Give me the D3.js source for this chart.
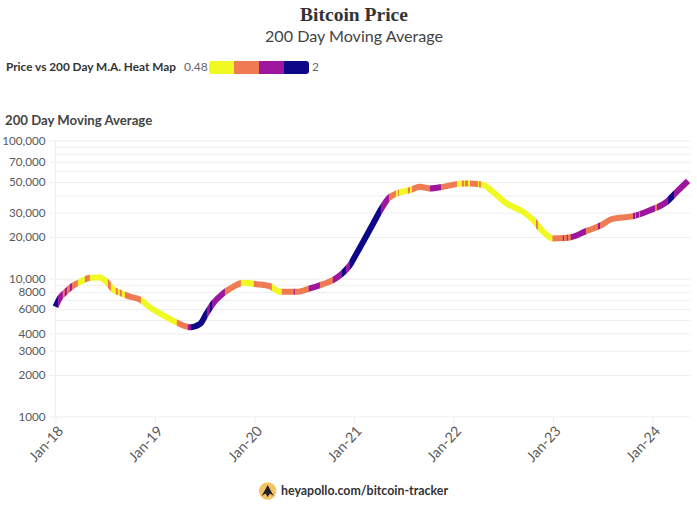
<!DOCTYPE html>
<html><head><meta charset="utf-8">
<script src="https://cdn.jsdelivr.net/npm/d3@7"></script>
<style>
html,body{margin:0;padding:0;background:#fff}
svg{display:block}
text{font-family:Lato,"Open Sans",sans-serif}
.grid line{stroke:#eeeeee;stroke-width:1}
.grid path{display:none}
.axt text{fill:#5a5a5a;font-size:11.7px}
</style></head><body>
<svg id="c" width="697" height="507"></svg>
<script>
const titleText = "Bitcoin Price";
const subtitleText = "200 Day Moving Average";
const legendTitle = "Price vs 200 Day M.A. Heat Map";
const axisTitle = "200 Day Moving Average";
const footerText = "heyapollo.com/bitcoin-tracker";

// Dates as decimal years
const dates = [2018.000,2018.043,2018.093,2018.161,2018.244,2018.345,2018.445,2018.513,2018.579,2018.664,2018.747,2018.847,2018.948,2019.079,2019.216,2019.350,2019.451,2019.518,2019.584,2019.685,2019.785,2019.886,2020.021,2020.154,2020.255,2020.423,2020.557,2020.687,2020.788,2020.888,2020.959,2021.026,2021.092,2021.193,2021.277,2021.344,2021.428,2021.562,2021.662,2021.763,2021.893,2022.031,2022.132,2022.296,2022.396,2022.534,2022.701,2022.802,2022.902,2023.002,2023.170,2023.338,2023.472,2023.590,2023.807,2023.975,2024.142,2024.243,2024.357];
const movingAverage = [6237,7211,7879,8710,9419,10116,10186,9462,8337,7798,7379,7063,6176,5433,4809,4426,4677,5585,6607,7798,8710,9311,9100,8810,8017,8017,8472,9100,9727,10990,12500,15200,18450,25060,32200,38000,41300,43650,46130,44900,46130,48300,48860,47700,42460,34970,30400,26480,21780,19500,19850,22130,24100,26900,28300,31260,35900,42460,50990];

// Heat map runs: decimal year each run ends at, and the price / M.A. ratio of the run
const heatRunEnds = [2018.023,2018.073,2018.093,2018.114,2018.144,2018.164,2018.224,2018.295,2018.345,2018.526,2018.556,2018.606,2018.626,2018.646,2018.667,2018.697,2018.858,2019.219,2019.330,2019.360,2019.521,2019.551,2019.571,2019.702,2019.863,2019.993,2020.174,2020.275,2020.395,2020.405,2020.546,2020.657,2020.788,2020.878,2020.918,2020.959,2021.270,2021.351,2021.421,2021.441,2021.451,2021.542,2021.562,2021.582,2021.763,2021.874,2022.035,2022.085,2022.105,2022.115,2022.146,2022.166,2022.246,2022.256,2022.276,2022.829,2022.849,2022.994,2023.099,2023.109,2023.139,2023.149,2023.179,2023.331,2023.452,2023.472,2023.804,2023.824,2023.834,2023.864,2023.874,2024.025,2024.045,2024.156,2024.217,2024.368];
const heatRunRatios = [1.8,1.4,1.05,1.4,1.05,1.4,1.05,0.75,1.05,0.75,1.05,0.75,1.05,0.75,1.05,0.75,1.05,0.75,1.05,1.4,1.8,1.4,1.8,1.4,1.05,0.75,1.05,0.75,1.05,1.4,1.05,1.4,1.05,1.4,1.8,1.4,1.8,1.4,1.05,0.75,1.05,0.75,1.05,0.75,1.05,1.4,1.05,0.75,1.05,0.75,1.05,0.75,1.05,0.75,1.05,0.75,1.05,0.75,1.05,1.4,1.05,1.4,1.05,1.4,1.05,1.4,1.05,1.4,1.05,1.4,1.05,1.4,1.05,1.4,1.8,1.4];

const legendMin = 0.48, legendMax = 2;
const heatColors = ["#f0f921","#ef7b53","#9c179e","#0d0887"];
const yTicks = [1000,2000,3000,4000,5000,6000,7000,8000,9000,10000,20000,30000,40000,50000,60000,70000,80000,90000,100000];
const yLabels = [1000,2000,3000,4000,6000,8000,10000,20000,30000,50000,70000,100000];
const xTickYears = [2018,2019,2020,2021,2022,2023,2024];

const svg = d3.select("#c");
const rows = dates.map((d,i)=>({date:d,v:movingAverage[i]}));

const L=55.5,R=690.5,T=140.5,B=416.5;
const x = d3.scaleLinear().domain([2018,2024]).range([L,652.5]);
const y = d3.scaleLog().domain([1000,100000]).range([B,T]);
const color = d3.scaleQuantize().domain([legendMin,legendMax]).range(heatColors);

// Grid and axes
const gy = svg.append("g").attr("class","grid axt").attr("transform",`translate(${L},0)`)
  .call(d3.axisLeft(y).tickValues(yTicks).tickSize(-(R-L)).tickPadding(10)
    .tickFormat(v=>yLabels.includes(v)?(v<10000?String(v):d3.format(",")(v)):""));
gy.selectAll(".tick").filter(v=>yLabels.includes(v)).append("line").attr("x1",-6).attr("x2",0);
svg.append("line").attr("x1",L).attr("x2",L).attr("y1",T).attr("y2",B).attr("stroke","#eeeeee");

const gx = svg.append("g").attr("class","grid axt").attr("transform",`translate(0,${B})`)
  .call(d3.axisBottom(x).tickValues(xTickYears).tickSize(7).tickPadding(3).tickFormat(yr=>"Jan-"+String(yr).slice(2)));
gx.selectAll("text").attr("text-anchor","end").attr("transform","rotate(-47)").attr("dx","-5.5px").attr("dy","6.3px").style("font-size","14.2px");

// Heat-coloured moving average line
const line = d3.line().x(d=>x(d.date)).y(d=>y(d.v)).curve(d3.curveMonotoneX);
const defs = svg.append("defs");
const pathD = line(rows);
let start = x.domain()[0];
const plot = svg.append("g").attr("fill","none").attr("stroke-width",6).attr("stroke-linejoin","round");
heatRunEnds.forEach((e,i)=>{
  const x0 = i===0 ? L-6 : x(start), x1 = i===heatRunEnds.length-1 ? x(e)+6 : x(e);
  defs.append("clipPath").attr("id","run"+i).append("rect")
    .attr("x",x0).attr("y",T-20).attr("width",x1-x0+0.35).attr("height",B-T+40);
  plot.append("path").attr("d",pathD).attr("stroke",color(heatRunRatios[i])).attr("clip-path",`url(#run${i})`);
  start = e;
});

// Titles
svg.append("text").attr("x",354).attr("y",20.7).attr("text-anchor","middle").style("font-family","'Liberation Serif',serif").style("font-weight",700).style("font-size","19.5px").attr("fill","#333").text(titleText);
svg.append("text").attr("x",354).attr("y",41.7).attr("text-anchor","middle").style("font-size","16.1px").attr("fill","#444").text(subtitleText);
svg.append("text").attr("x",5).attr("y",125).style("font-size","13.2px").style("font-weight",700).attr("fill","#444").text(axisTitle);

// Legend
svg.append("text").attr("x",6).attr("y",71).style("font-size","11.8px").style("font-weight",700).attr("fill","#333").text(legendTitle);
svg.append("text").attr("x",184).attr("y",71).style("font-size","12px").attr("fill","#666").text(legendMin);
svg.append("text").attr("x",312).attr("y",71).style("font-size","12px").attr("fill","#666").text(legendMax);
const lx = d3.scaleLinear().domain([0,heatColors.length]).range([209,309]);
defs.append("clipPath").attr("id","lg").append("rect").attr("x",lx(0)).attr("y",61).attr("width",lx(4)-lx(0)).attr("height",13).attr("rx",3);
svg.append("g").attr("clip-path","url(#lg)").selectAll("rect").data(heatColors).join("rect")
  .attr("x",(d,i)=>lx(i)).attr("y",61).attr("width",(d,i)=>lx(i+1)-lx(i)).attr("height",13).attr("fill",d=>d);

// Footer
const logo = svg.append("g").attr("transform","translate(267.7,491)");
logo.append("circle").attr("r",8.7).attr("fill","#f5c264");
logo.append("path").attr("d","M0,-6 L6,5 L2.2,2.5 L0,6 L-2.2,2.5 L-6,5 Z").attr("fill","#222");
svg.append("text").attr("x",281).attr("y",494.5).style("font-size","12.4px").style("font-weight",700).attr("fill","#333").text(footerText);
</script>
</body></html>
